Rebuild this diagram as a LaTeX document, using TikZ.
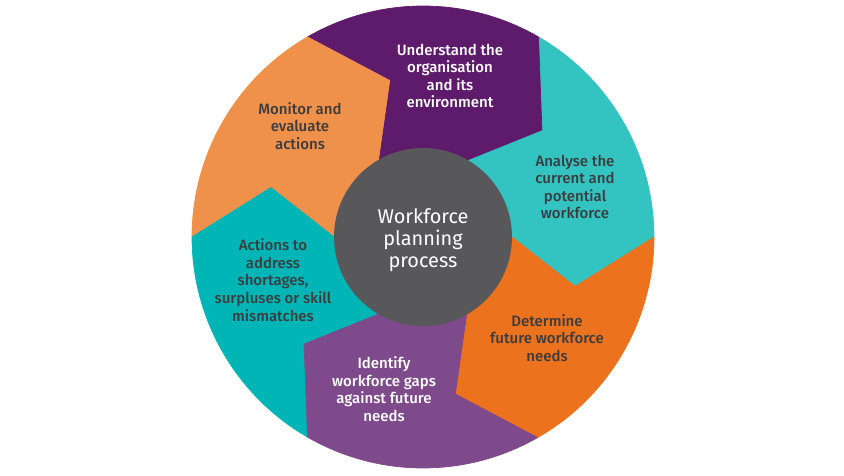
\documentclass[tikz,border=0pt]{standalone}
\usepackage{fontspec}
\setmainfont{Fira Sans}[BoldFont={Fira Sans Medium}]

\definecolor{undpurple}{HTML}{5F1B6B}
\definecolor{anateal}{HTML}{33C4C1}
\definecolor{detorange}{HTML}{EC721D}
\definecolor{idepurple}{HTML}{7E4A8B}
\definecolor{actteal}{HTML}{00B5B5}
\definecolor{monorange}{HTML}{EF914A}
\definecolor{hubgray}{HTML}{58585B}
\definecolor{txtgray}{HTML}{3C3C3E}

\tikzset{
  seg/.style={line width=0.6pt, line join=round},
  seglabel/.style={align=center, text=txtgray,
    font=\fontsize{12.8}{15}\selectfont\bfseries},
  seglabelw/.style={seglabel, text=white},
}

\begin{document}
\begin{tikzpicture}[x=0.03cm,y=0.03cm]
      \useasboundingbox (-423,-238) rectangle (421,237);

      % SEGMENTS (each one points clockwise into the next)
      \filldraw[seg, fill=anateal, draw=anateal] (0,0) -- (0:89) -- (-18:160) -- (0:231)
        arc[start angle=0, end angle=60, radius=231] -- (42:160) -- (60:89) -- cycle;
      \filldraw[seg, fill=undpurple, draw=undpurple] (0,0) -- (60:89) -- (42:160) -- (60:231)
        arc[start angle=60, end angle=120, radius=231] -- (102:160) -- (120:89) -- cycle;
      \filldraw[seg, fill=monorange, draw=monorange] (0,0) -- (120:89) -- (102:160) -- (120:231)
        arc[start angle=120, end angle=180, radius=231] -- (162:160) -- (180:89) -- cycle;
      \filldraw[seg, fill=actteal, draw=actteal] (0,0) -- (180:89) -- (162:160) -- (180:231)
        arc[start angle=180, end angle=240, radius=231] -- (222:160) -- (240:89) -- cycle;
      \filldraw[seg, fill=idepurple, draw=idepurple] (0,0) -- (240:89) -- (222:160) -- (240:231)
        arc[start angle=240, end angle=300, radius=231] -- (282:160) -- (300:89) -- cycle;
      \filldraw[seg, fill=detorange, draw=detorange] (0,0) -- (300:89) -- (282:160) -- (300:231)
        arc[start angle=300, end angle=360, radius=231] -- (342:160) -- (360:89) -- cycle;

      % HUB
      \fill[hubgray] (0,0) circle[radius=89];
      \node[align=center, text=white, font=\fontsize{17}{19}\selectfont]
        (hub) at (0,-3) {Workforce\\planning\\process};

      % LABELS
      \node[seglabelw] (und) at (27,161) {Understand the\\organisation\\and its\\environment};
      \node[seglabel]  (ana) at (152,50) {Analyse the\\current and\\potential\\workforce};
      \node[seglabel]  (det) at (124,-101) {Determine\\future workforce\\needs};
      \node[seglabelw] (ide) at (-39,-152) {Identify\\workforce gaps\\against future\\needs};
      \node[seglabel]  (act) at (-150,-43) {Actions to\\address\\shortages,\\surpluses or skill\\mismatches};
      \node[seglabel]  (mon) at (-123,111) {Monitor and\\evaluate\\actions};

    \end{tikzpicture}
\end{document}
